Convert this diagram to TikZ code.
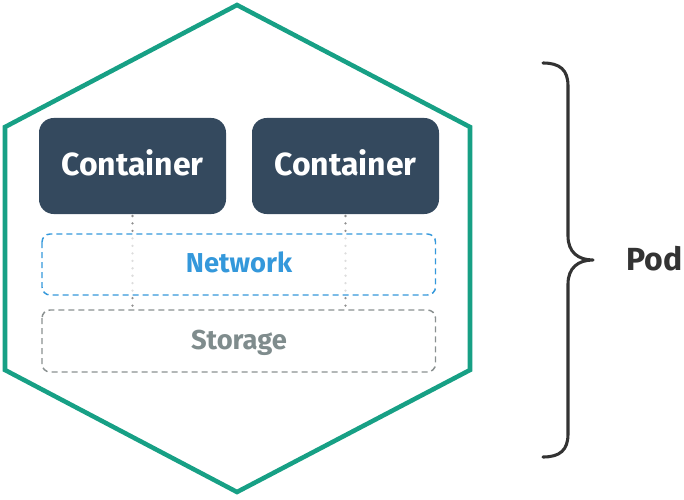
\documentclass[tikz,border=0pt]{standalone}
\usepackage{fontspec}
\setmainfont{Fira Sans}
\begin{document}
\begin{tikzpicture}[x=0.75pt,y=-0.75pt,
  hexline/.style={draw=podgreen,line width=3.4pt,line join=miter},
  contbox/.style={fill=contblue,draw=none,rounded corners=11pt},
  conttext/.style={text=white,anchor=base,font=\bfseries\fontsize{24}{28}\selectfont},
  netbox/.style={draw=netblue,line width=1.1pt,dash pattern=on 4.5pt off 3pt,rounded corners=6pt,fill=white,fill opacity=0.7},
  storbox/.style={draw=storgray,line width=1.1pt,dash pattern=on 4.5pt off 3pt,rounded corners=6pt},
  linktext/.style={anchor=base,font=\bfseries\fontsize{20.5}{24}\selectfont},
  dotline/.style={draw=dotgray,line width=1.9pt,line cap=round,dash pattern=on 0pt off 5.6pt},
  bracestyle/.style={draw=bracegray,line width=2.3pt,line cap=round,line join=round}
]
\definecolor{podgreen}{HTML}{17A085}
\definecolor{contblue}{HTML}{34495E}
\definecolor{netblue}{HTML}{3498DB}
\definecolor{storgray}{HTML}{8A9090}
\definecolor{storetext}{HTML}{7F8C8D}
\definecolor{dotgray}{HTML}{8F8F8F}
\definecolor{bracegray}{HTML}{333333}
\useasboundingbox (0,0) rectangle (684,499);
% hexagon
\draw[hexline] (237,5) -- (470,127) -- (470,370) -- (237,492) -- (5,370) -- (5,127) -- cycle;
% containers
\path[contbox] (39,118) rectangle (226,214);
\path[contbox] (252,118) rectangle (439,214);
\node[conttext] (c1) at (132.5,175) {Container};
\node[conttext] (c2) at (345.5,175) {Container};
\coordinate (c1b) at (132.5,216);
\coordinate (c2b) at (345.5,216);
\coordinate (s1t) at (132.5,309);
\coordinate (s2t) at (345.5,309);
% dotted links
\draw[dotline] (c1b) -- (s1t);
\draw[dotline] (c2b) -- (s2t);
% network and storage
\path[netbox] (42,234) rectangle (435.5,295);
\node[linktext,text=netblue] (net) at (239,272.5) {Network};
\draw[storbox] (42,310) rectangle (435.5,372);
\node[linktext,text=storetext] (sto) at (239,349) {Storage};
% brace
\coordinate (btop) at (543,63);
\coordinate (btip) at (593,260);
\coordinate (bbot) at (543,457);
\draw[bracestyle] (btop) .. controls (560,63) and (568,70) .. (568,86) -- (568,236)
  .. controls (568,252) and (578,260) .. (btip)
  .. controls (578,260) and (568,268) .. (568,284) -- (568,434)
  .. controls (568,450) and (560,457) .. (bbot);
\node[font=\bfseries\fontsize{24}{28}\selectfont,text=bracegray,anchor=west] (pod) at (622,259) {Pod};
\end{tikzpicture}
\end{document}
